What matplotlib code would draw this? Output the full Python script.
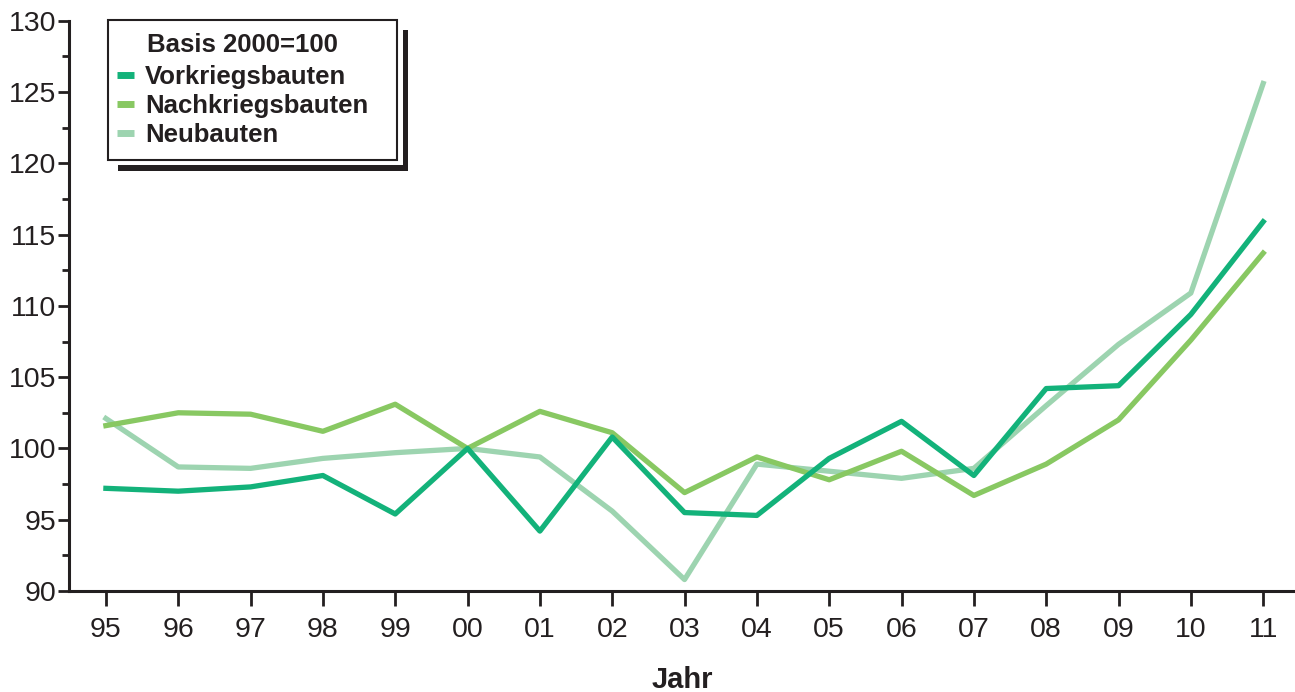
import matplotlib.pyplot as plt
from matplotlib.patches import Rectangle
from matplotlib.ticker import MultipleLocator

plt.rcParams['font.family'] = ['Liberation Sans', 'DejaVu Sans']

jahre = ['95', '96', '97', '98', '99', '00', '01', '02', '03', '04',
         '05', '06', '07', '08', '09', '10', '11']

vorkrieg = [97.2, 97.0, 97.3, 98.1, 95.4, 100.0, 94.2, 100.8, 95.5, 95.3,
            99.3, 101.9, 98.1, 104.2, 104.4, 109.4, 115.9]
nachkrieg = [101.6, 102.5, 102.4, 101.2, 103.1, 100.0, 102.6, 101.1, 96.9, 99.4,
             97.8, 99.8, 96.7, 98.9, 102.0, 107.6, 113.7]
neubauten = [102.1, 98.7, 98.6, 99.3, 99.7, 100.0, 99.4, 95.6, 90.8, 98.9,
             98.4, 97.9, 98.6, 103.0, 107.3, 110.9, 125.6]

farben = ['#13b27a', '#88c862', '#9dd4b0']
dunkel = '#231f20'

W, H = 1295, 692
fig = plt.figure(figsize=(W / 100, H / 100), dpi=100)
ax = fig.add_axes([0.0533, 0.146, 0.9467, 0.824])

x = range(len(jahre))
ax.plot(x, neubauten, color=farben[2], lw=3.8, label='Neubauten', zorder=2)
ax.plot(x, nachkrieg, color=farben[1], lw=3.8, label='Nachkriegsbauten', zorder=3)
ax.plot(x, vorkrieg, color=farben[0], lw=3.8, label='Vorkriegsbauten', zorder=4)

ax.set_xlim(-0.51, 16.44)
ax.set_ylim(90, 130)
ax.set_xticks(list(x))
ax.set_xticklabels(jahre)
ax.yaxis.set_major_locator(MultipleLocator(5))
ax.yaxis.set_minor_locator(MultipleLocator(2.5))

for s in ['top', 'right']:
    ax.spines[s].set_visible(False)
for s in ['left', 'bottom']:
    ax.spines[s].set_linewidth(2.2)
    ax.spines[s].set_color(dunkel)

ax.tick_params(axis='y', which='major', length=8, width=2, labelsize=20.5,
               color=dunkel, labelcolor=dunkel, pad=1)
ax.tick_params(axis='y', which='minor', length=5, width=2, color=dunkel)
ax.tick_params(axis='x', length=11, width=2, labelsize=20.5, color=dunkel,
               labelcolor=dunkel, pad=8)

ax.set_xlabel('Jahr', fontsize=21, fontweight='bold', labelpad=16, color=dunkel)


# legend box with offset shadow, in pixel coordinates
def px_rect(x0, y0, x1, y1, **kw):
    return Rectangle((x0 / W, 1 - y1 / H), (x1 - x0) / W, (y1 - y0) / H,
                     transform=fig.transFigure, **kw)


fig.patches.append(px_rect(118, 30, 408, 171, facecolor=dunkel, edgecolor='none', zorder=5))
fig.patches.append(px_rect(102, 14, 403, 165, facecolor='white', edgecolor='none', zorder=6))
fig.patches.append(px_rect(108, 20, 397, 160, facecolor='white', edgecolor=dunkel,
                           lw=1.5, zorder=7))

handles, labels = ax.get_legend_handles_labels()
order = [2, 1, 0]
leg = fig.legend([handles[i] for i in order], [labels[i] for i in order],
                 title='Basis 2000=100', loc='upper left',
                 bbox_to_anchor=(117 / W, 1 - 33 / H), bbox_transform=fig.transFigure,
                 prop={'weight': 'bold', 'size': 18.5},
                 title_fontproperties={'weight': 'bold', 'size': 18.5},
                 handlelength=0.65, handletextpad=0.45, labelspacing=0.19,
                 borderpad=0, borderaxespad=0, frameon=False)
leg.set_zorder(8)
leg._legend_box.sep = 6
for t in leg.get_texts():
    t.set_color(dunkel)
leg.get_title().set_color(dunkel)
for h in leg.legend_handles:
    h.set_linewidth(5)
    h.set_solid_capstyle('butt')

fig.savefig('out.png', dpi=100)
